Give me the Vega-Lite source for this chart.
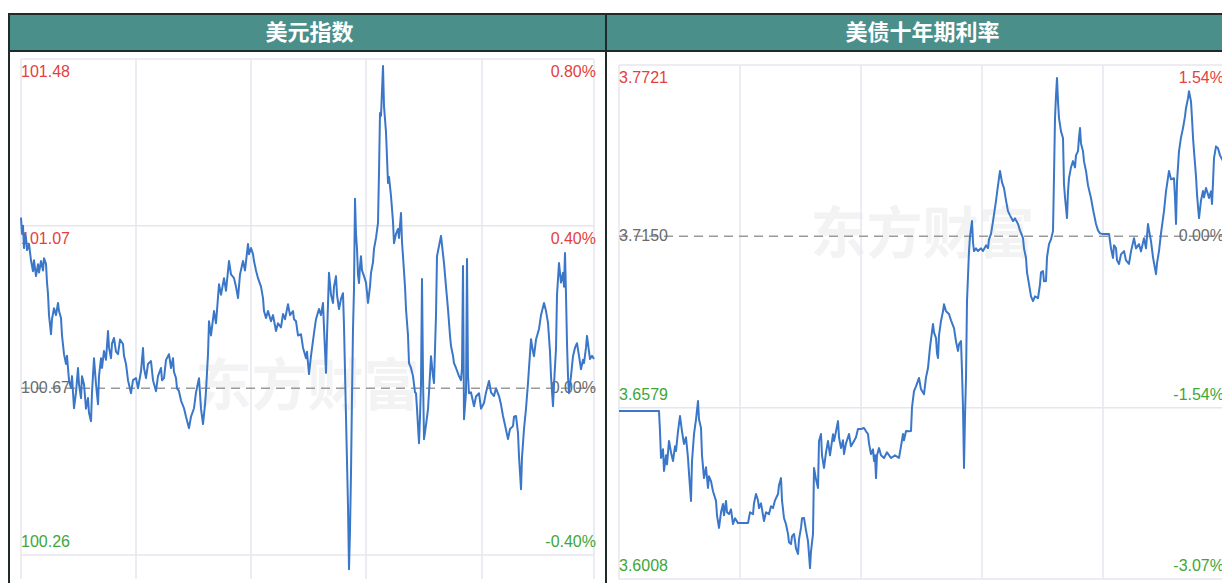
{
  "$schema": "https://vega.github.io/schema/vega-lite/v6.json",
  "padding": {"left": 8, "top": 13, "right": 0, "bottom": 0},
  "background": "white",
  "spacing": 0,
  "columns": 2,
  "bounds": "flush",
  "config": {"view": {"stroke": "#1f2a2a", "strokeWidth": 2}, "concat": {"spacing": 0}},
  "datasets": {
    "usd": [
      {"i":0,"v":101.09},{"i":1,"v":101.05},{"i":2,"v":101.07},{"i":3,"v":101.015},{"i":4,"v":101.05},{"i":5,"v":101.04},{"i":6,"v":101.01},{"i":8,"v":101.025},{"i":10,"v":100.985},{"i":12,"v":100.958},{"i":13,"v":100.985},{"i":15,"v":100.946},{"i":17,"v":100.975},{"i":18,"v":100.955},{"i":20,"v":100.983},{"i":22,"v":100.96},{"i":23,"v":100.99},{"i":25,"v":100.976},{"i":26,"v":100.93},{"i":27,"v":100.902},{"i":28,"v":100.85},{"i":30,"v":100.803},{"i":31,"v":100.84},{"i":33,"v":100.867},{"i":35,"v":100.85},{"i":37,"v":100.88},{"i":38,"v":100.86},{"i":40,"v":100.843},{"i":41,"v":100.8},{"i":43,"v":100.754},{"i":45,"v":100.73},{"i":46,"v":100.75},{"i":47,"v":100.72},{"i":48,"v":100.69},{"i":50,"v":100.671},{"i":51,"v":100.7},{"i":53,"v":100.621},{"i":55,"v":100.66},{"i":57,"v":100.72},{"i":58,"v":100.68},{"i":60,"v":100.646},{"i":61,"v":100.7},{"i":63,"v":100.68},{"i":65,"v":100.62},{"i":67,"v":100.646},{"i":68,"v":100.61},{"i":70,"v":100.589},{"i":71,"v":100.66},{"i":73,"v":100.744},{"i":75,"v":100.68},{"i":77,"v":100.631},{"i":78,"v":100.7},{"i":80,"v":100.744},{"i":81,"v":100.72},{"i":83,"v":100.762},{"i":85,"v":100.74},{"i":87,"v":100.811},{"i":88,"v":100.77},{"i":90,"v":100.744},{"i":91,"v":100.78},{"i":93,"v":100.794},{"i":95,"v":100.76},{"i":97,"v":100.754},{"i":99,"v":100.79},{"i":102,"v":100.779},{"i":103,"v":100.75},{"i":105,"v":100.73},{"i":107,"v":100.69},{"i":110,"v":100.658},{"i":112,"v":100.69},{"i":115,"v":100.695},{"i":117,"v":100.67},{"i":120,"v":100.712},{"i":121,"v":100.74},{"i":122,"v":100.769},{"i":123,"v":100.72},{"i":125,"v":100.695},{"i":127,"v":100.73},{"i":130,"v":100.737},{"i":132,"v":100.69},{"i":135,"v":100.663},{"i":137,"v":100.7},{"i":140,"v":100.72},{"i":141,"v":100.69},{"i":143,"v":100.695},{"i":145,"v":100.74},{"i":148,"v":100.754},{"i":150,"v":100.72},{"i":152,"v":100.744},{"i":153,"v":100.71},{"i":155,"v":100.695},{"i":156,"v":100.67},{"i":158,"v":100.663},{"i":160,"v":100.64},{"i":163,"v":100.621},{"i":165,"v":100.6},{"i":168,"v":100.572},{"i":170,"v":100.6},{"i":173,"v":100.621},{"i":175,"v":100.66},{"i":178,"v":100.695},{"i":180,"v":100.62},{"i":182,"v":100.582},{"i":184,"v":100.63},{"i":185,"v":100.663},{"i":187,"v":100.754},{"i":188,"v":100.835},{"i":190,"v":100.8},{"i":193,"v":100.86},{"i":195,"v":100.83},{"i":198,"v":100.926},{"i":200,"v":100.9},{"i":203,"v":100.941},{"i":205,"v":100.91},{"i":208,"v":100.983},{"i":210,"v":100.95},{"i":213,"v":100.941},{"i":215,"v":100.92},{"i":217,"v":100.892},{"i":219,"v":100.95},{"i":222,"v":100.983},{"i":224,"v":100.96},{"i":227,"v":101.025},{"i":228,"v":101.0},{"i":230,"v":101.015},{"i":232,"v":101.0},{"i":233,"v":100.983},{"i":235,"v":100.96},{"i":237,"v":100.941},{"i":240,"v":100.92},{"i":242,"v":100.892},{"i":243,"v":100.86},{"i":245,"v":100.843},{"i":247,"v":100.86},{"i":250,"v":100.835},{"i":252,"v":100.85},{"i":255,"v":100.811},{"i":257,"v":100.83},{"i":260,"v":100.82},{"i":262,"v":100.853},{"i":264,"v":100.84},{"i":267,"v":100.877},{"i":269,"v":100.85},{"i":272,"v":100.86},{"i":273,"v":100.84},{"i":275,"v":100.835},{"i":277,"v":100.8},{"i":280,"v":100.803},{"i":282,"v":100.77},{"i":285,"v":100.744},{"i":286,"v":100.76},{"i":288,"v":100.705},{"i":290,"v":100.75},{"i":293,"v":100.806},{"i":295,"v":100.84},{"i":298,"v":100.865},{"i":300,"v":100.85},{"i":302,"v":100.88},{"i":303,"v":100.82},{"i":305,"v":100.708},{"i":306,"v":100.8},{"i":308,"v":100.954},{"i":310,"v":100.9},{"i":312,"v":100.88},{"i":313,"v":100.92},{"i":315,"v":100.946},{"i":316,"v":100.9},{"i":318,"v":100.865},{"i":320,"v":100.89},{"i":322,"v":100.904},{"i":323,"v":100.823},{"i":325,"v":100.6},{"i":327,"v":100.38},{"i":328,"v":100.225},{"i":329,"v":100.32},{"i":330,"v":100.462},{"i":331,"v":100.65},{"i":332,"v":100.816},{"i":333,"v":100.914},{"i":334,"v":101.136},{"i":335,"v":101.05},{"i":336,"v":101.013},{"i":337,"v":100.95},{"i":338,"v":100.929},{"i":339,"v":100.97},{"i":340,"v":100.995},{"i":341,"v":100.96},{"i":343,"v":100.946},{"i":345,"v":100.93},{"i":347,"v":100.88},{"i":349,"v":100.92},{"i":350,"v":100.954},{"i":352,"v":100.98},{"i":353,"v":101.013},{"i":355,"v":101.04},{"i":357,"v":101.077},{"i":358,"v":101.2},{"i":359,"v":101.347},{"i":360,"v":101.34},{"i":362,"v":101.463},{"i":363,"v":101.364},{"i":365,"v":101.3},{"i":367,"v":101.175},{"i":368,"v":101.19},{"i":370,"v":101.143},{"i":372,"v":101.08},{"i":373,"v":101.027},{"i":375,"v":101.05},{"i":377,"v":101.062},{"i":378,"v":101.04},{"i":380,"v":101.101},{"i":381,"v":101.03},{"i":382,"v":100.995},{"i":384,"v":100.92},{"i":385,"v":100.865},{"i":387,"v":100.8},{"i":388,"v":100.732},{"i":390,"v":100.72},{"i":392,"v":100.7},{"i":394,"v":100.66},{"i":395,"v":100.658},{"i":396,"v":100.62},{"i":398,"v":100.535},{"i":399,"v":100.6},{"i":400,"v":100.68},{"i":401,"v":100.939},{"i":402,"v":100.7},{"i":403,"v":100.545},{"i":405,"v":100.58},{"i":407,"v":100.619},{"i":408,"v":100.66},{"i":410,"v":100.749},{"i":412,"v":100.7},{"i":413,"v":100.683},{"i":415,"v":100.85},{"i":416,"v":100.995},{"i":418,"v":101.02},{"i":420,"v":101.045},{"i":422,"v":101.0},{"i":423,"v":100.978},{"i":425,"v":100.92},{"i":427,"v":100.865},{"i":429,"v":100.8},{"i":430,"v":100.774},{"i":432,"v":100.75},{"i":433,"v":100.732},{"i":435,"v":100.72},{"i":438,"v":100.7},{"i":440,"v":100.69},{"i":441,"v":100.72},{"i":442,"v":100.971},{"i":443,"v":100.594},{"i":445,"v":100.66},{"i":446,"v":100.988},{"i":447,"v":100.7},{"i":448,"v":100.658},{"i":450,"v":100.66},{"i":453,"v":100.626},{"i":455,"v":100.65},{"i":458,"v":100.658},{"i":460,"v":100.62},{"i":463,"v":100.634},{"i":465,"v":100.66},{"i":468,"v":100.688},{"i":470,"v":100.66},{"i":473,"v":100.651},{"i":475,"v":100.67},{"i":478,"v":100.651},{"i":480,"v":100.63},{"i":482,"v":100.602},{"i":484,"v":100.58},{"i":487,"v":100.545},{"i":489,"v":100.57},{"i":492,"v":100.577},{"i":493,"v":100.6},{"i":495,"v":100.602},{"i":497,"v":100.56},{"i":498,"v":100.503},{"i":500,"v":100.422},{"i":501,"v":100.5},{"i":503,"v":100.57},{"i":505,"v":100.62},{"i":507,"v":100.683},{"i":508,"v":100.72},{"i":510,"v":100.791},{"i":512,"v":100.76},{"i":513,"v":100.749},{"i":515,"v":100.79},{"i":518,"v":100.816},{"i":520,"v":100.85},{"i":523,"v":100.88},{"i":525,"v":100.86},{"i":527,"v":100.831},{"i":529,"v":100.76},{"i":530,"v":100.7},{"i":532,"v":100.626},{"i":533,"v":100.68},{"i":535,"v":100.767},{"i":536,"v":100.9},{"i":538,"v":100.978},{"i":540,"v":100.93},{"i":542,"v":100.954},{"i":543,"v":100.92},{"i":544,"v":101.003},{"i":545,"v":100.9},{"i":546,"v":100.781},{"i":547,"v":100.7},{"i":548,"v":100.658},{"i":550,"v":100.7},{"i":552,"v":100.749},{"i":554,"v":100.77},{"i":556,"v":100.781},{"i":558,"v":100.75},{"i":560,"v":100.717},{"i":562,"v":100.74},{"i":563,"v":100.732},{"i":565,"v":100.77},{"i":566,"v":100.799},{"i":568,"v":100.76},{"i":569,"v":100.742},{"i":571,"v":100.75},{"i":573,"v":100.742}
    ],
    "ust": [
      {"i":0,"v":3.6568},{"i":40,"v":3.6568},{"i":41,"v":3.65},{"i":42,"v":3.6411},{"i":44,"v":3.644},{"i":45,"v":3.6368},{"i":47,"v":3.642},{"i":48,"v":3.639},{"i":50,"v":3.6468},{"i":52,"v":3.643},{"i":54,"v":3.6401},{"i":56,"v":3.645},{"i":57,"v":3.6434},{"i":59,"v":3.65},{"i":61,"v":3.6551},{"i":63,"v":3.65},{"i":65,"v":3.6458},{"i":67,"v":3.648},{"i":69,"v":3.6411},{"i":70,"v":3.636},{"i":72,"v":3.6268},{"i":73,"v":3.64},{"i":75,"v":3.6491},{"i":77,"v":3.654},{"i":79,"v":3.6601},{"i":80,"v":3.654},{"i":82,"v":3.6511},{"i":83,"v":3.642},{"i":85,"v":3.6344},{"i":87,"v":3.638},{"i":89,"v":3.6311},{"i":90,"v":3.635},{"i":92,"v":3.6334},{"i":94,"v":3.63},{"i":97,"v":3.6268},{"i":98,"v":3.622},{"i":100,"v":3.6178},{"i":102,"v":3.623},{"i":104,"v":3.6258},{"i":105,"v":3.622},{"i":107,"v":3.6268},{"i":108,"v":3.623},{"i":110,"v":3.6224},{"i":112,"v":3.624},{"i":114,"v":3.6191},{"i":116,"v":3.621},{"i":119,"v":3.6194},{"i":124,"v":3.6194},{"i":129,"v":3.6194},{"i":131,"v":3.623},{"i":134,"v":3.6224},{"i":135,"v":3.626},{"i":137,"v":3.6291},{"i":139,"v":3.627},{"i":140,"v":3.6244},{"i":142,"v":3.626},{"i":145,"v":3.6201},{"i":147,"v":3.623},{"i":150,"v":3.6224},{"i":152,"v":3.625},{"i":154,"v":3.6244},{"i":156,"v":3.627},{"i":159,"v":3.6291},{"i":160,"v":3.632},{"i":162,"v":3.6344},{"i":163,"v":3.627},{"i":165,"v":3.6211},{"i":167,"v":3.619},{"i":169,"v":3.6158},{"i":170,"v":3.613},{"i":172,"v":3.6124},{"i":173,"v":3.615},{"i":175,"v":3.6158},{"i":177,"v":3.611},{"i":179,"v":3.6091},{"i":180,"v":3.614},{"i":182,"v":3.6178},{"i":183,"v":3.621},{"i":185,"v":3.6211},{"i":187,"v":3.617},{"i":189,"v":3.6134},{"i":190,"v":3.609},{"i":191,"v":3.6044},{"i":192,"v":3.61},{"i":194,"v":3.6158},{"i":195,"v":3.6378},{"i":197,"v":3.634},{"i":199,"v":3.6311},{"i":200,"v":3.6468},{"i":202,"v":3.6491},{"i":203,"v":3.642},{"i":205,"v":3.6378},{"i":207,"v":3.643},{"i":209,"v":3.6468},{"i":211,"v":3.642},{"i":212,"v":3.6444},{"i":214,"v":3.649},{"i":215,"v":3.6468},{"i":217,"v":3.65},{"i":219,"v":3.6534},{"i":220,"v":3.648},{"i":222,"v":3.6444},{"i":224,"v":3.647},{"i":225,"v":3.6424},{"i":227,"v":3.646},{"i":230,"v":3.6491},{"i":232,"v":3.645},{"i":235,"v":3.6468},{"i":237,"v":3.648},{"i":239,"v":3.6508},{"i":242,"v":3.6508},{"i":245,"v":3.6511},{"i":247,"v":3.65},{"i":249,"v":3.6491},{"i":250,"v":3.646},{"i":252,"v":3.6424},{"i":254,"v":3.644},{"i":255,"v":3.6401},{"i":256,"v":3.642},{"i":257,"v":3.6344},{"i":258,"v":3.642},{"i":260,"v":3.6444},{"i":262,"v":3.642},{"i":265,"v":3.6411},{"i":268,"v":3.643},{"i":272,"v":3.6411},{"i":276,"v":3.642},{"i":280,"v":3.6411},{"i":282,"v":3.645},{"i":284,"v":3.6491},{"i":285,"v":3.647},{"i":287,"v":3.6501},{"i":290,"v":3.65},{"i":292,"v":3.6501},{"i":293,"v":3.658},{"i":295,"v":3.6634},{"i":297,"v":3.665},{"i":300,"v":3.6678},{"i":302,"v":3.664},{"i":305,"v":3.6624},{"i":307,"v":3.668},{"i":309,"v":3.6711},{"i":311,"v":3.678},{"i":314,"v":3.6858},{"i":315,"v":3.683},{"i":317,"v":3.6811},{"i":318,"v":3.676},{"i":319,"v":3.6744},{"i":320,"v":3.682},{"i":322,"v":3.6868},{"i":324,"v":3.69},{"i":325,"v":3.6924},{"i":327,"v":3.69},{"i":330,"v":3.6891},{"i":332,"v":3.687},{"i":335,"v":3.6844},{"i":337,"v":3.68},{"i":339,"v":3.6768},{"i":340,"v":3.679},{"i":342,"v":3.6801},{"i":343,"v":3.67},{"i":344,"v":3.6578},{"i":345,"v":3.6378},{"i":346,"v":3.655},{"i":347,"v":3.6678},{"i":348,"v":3.6934},{"i":350,"v":3.7101},{"i":351,"v":3.715},{"i":353,"v":3.7201},{"i":354,"v":3.713},{"i":355,"v":3.7101},{"i":357,"v":3.711},{"i":359,"v":3.7101},{"i":362,"v":3.711},{"i":364,"v":3.7101},{"i":367,"v":3.712},{"i":369,"v":3.7111},{"i":370,"v":3.714},{"i":372,"v":3.7158},{"i":374,"v":3.72},{"i":377,"v":3.7268},{"i":379,"v":3.732},{"i":381,"v":3.7368},{"i":383,"v":3.733},{"i":385,"v":3.7311},{"i":387,"v":3.727},{"i":389,"v":3.7234},{"i":391,"v":3.722},{"i":394,"v":3.7201},{"i":396,"v":3.721},{"i":399,"v":3.7191},{"i":401,"v":3.717},{"i":404,"v":3.7144},{"i":405,"v":3.711},{"i":407,"v":3.7078},{"i":408,"v":3.703},{"i":410,"v":3.6991},{"i":412,"v":3.695},{"i":414,"v":3.6934},{"i":416,"v":3.695},{"i":419,"v":3.6944},{"i":421,"v":3.699},{"i":422,"v":3.703},{"i":424,"v":3.7034},{"i":425,"v":3.7},{"i":427,"v":3.7001},{"i":428,"v":3.708},{"i":430,"v":3.7124},{"i":432,"v":3.714},{"i":434,"v":3.7168},{"i":435,"v":3.735},{"i":436,"v":3.7544},{"i":437,"v":3.762},{"i":438,"v":3.7678},{"i":439,"v":3.76},{"i":440,"v":3.7544},{"i":442,"v":3.75},{"i":444,"v":3.7478},{"i":445,"v":3.7324},{"i":446,"v":3.728},{"i":448,"v":3.7211},{"i":449,"v":3.73},{"i":450,"v":3.7344},{"i":452,"v":3.738},{"i":454,"v":3.7401},{"i":456,"v":3.738},{"i":457,"v":3.742},{"i":459,"v":3.7434},{"i":460,"v":3.748},{"i":461,"v":3.7511},{"i":462,"v":3.746},{"i":464,"v":3.7434},{"i":465,"v":3.74},{"i":467,"v":3.7368},{"i":469,"v":3.732},{"i":472,"v":3.7278},{"i":474,"v":3.724},{"i":477,"v":3.7191},{"i":479,"v":3.717},{"i":481,"v":3.716},{"i":484,"v":3.7158},{"i":490,"v":3.7158},{"i":492,"v":3.711},{"i":494,"v":3.7078},{"i":495,"v":3.712},{"i":497,"v":3.7111},{"i":498,"v":3.707},{"i":500,"v":3.7058},{"i":502,"v":3.709},{"i":505,"v":3.7101},{"i":507,"v":3.707},{"i":510,"v":3.7058},{"i":512,"v":3.71},{"i":515,"v":3.7144},{"i":517,"v":3.711},{"i":520,"v":3.7124},{"i":522,"v":3.71},{"i":525,"v":3.7144},{"i":527,"v":3.711},{"i":529,"v":3.7191},{"i":530,"v":3.717},{"i":532,"v":3.7134},{"i":534,"v":3.708},{"i":537,"v":3.7024},{"i":538,"v":3.706},{"i":540,"v":3.7101},{"i":542,"v":3.716},{"i":545,"v":3.7234},{"i":547,"v":3.73},{"i":550,"v":3.7368},{"i":552,"v":3.734},{"i":555,"v":3.7344},{"i":556,"v":3.728},{"i":557,"v":3.7191},{"i":558,"v":3.733},{"i":560,"v":3.7434},{"i":562,"v":3.748},{"i":564,"v":3.7511},{"i":566,"v":3.755},{"i":567,"v":3.7578},{"i":569,"v":3.761},{"i":570,"v":3.7634},{"i":572,"v":3.76},{"i":573,"v":3.7544},{"i":574,"v":3.748},{"i":575,"v":3.7434},{"i":577,"v":3.735},{"i":578,"v":3.7291},{"i":579,"v":3.725},{"i":580,"v":3.7211},{"i":582,"v":3.727},{"i":584,"v":3.7301},{"i":585,"v":3.728},{"i":587,"v":3.7311},{"i":589,"v":3.729},{"i":590,"v":3.7278},{"i":592,"v":3.73},{"i":593,"v":3.7258},{"i":594,"v":3.733},{"i":595,"v":3.7411},{"i":597,"v":3.745},{"i":599,"v":3.7444},{"i":601,"v":3.742},{"i":604,"v":3.7401}
    ],
    "usdLevels": [
      {"v":101.48,"lab":"101.48","pct":"0.80%","k":"up"},
      {"v":101.07,"lab":"101.07","pct":"0.40%","k":"up"},
      {"v":100.67,"lab":"100.67","pct":"0.00%","k":"base"},
      {"v":100.26,"lab":"100.26","pct":"-0.40%","k":"down"}
    ],
    "ustLevels": [
      {"v":3.7721,"lab":"3.7721","pct":"1.54%","k":"up"},
      {"v":3.715,"lab":"3.7150","pct":"0.00%","k":"base"},
      {"v":3.6579,"lab":"3.6579","pct":"-1.54%","k":"down"},
      {"v":3.6008,"lab":"3.6008","pct":"-3.07%","k":"down"}
    ],
    "usdCols": [{"i":0},{"i":115},{"i":230},{"i":345},{"i":461},{"i":573}],
    "ustCols": [{"i":0},{"i":121},{"i":242},{"i":363},{"i":484},{"i":605}]
  },
  "concat": [
    {
      "width": 597, "height": 37,
      "data": {"values": [{"title": "美元指数"}]},
      "view": {"fill": "#4b8f8b", "stroke": "#1f2a2a", "strokeWidth": 2},
      "mark": {"type": "text", "color": "white", "font": "Noto Sans CJK SC", "fontWeight": "bold", "fontSize": 22, "baseline": "middle", "align": "center", "dx": 2},
      "encoding": {"text": {"field": "title"}}
    },
    {
      "width": 617, "height": 37,
      "data": {"values": [{"title": "美债十年期利率"}]},
      "view": {"fill": "#4b8f8b", "stroke": "#1f2a2a", "strokeWidth": 2},
      "mark": {"type": "text", "color": "white", "font": "Noto Sans CJK SC", "fontWeight": "bold", "fontSize": 22, "baseline": "middle", "align": "center", "dx": 8},
      "encoding": {"text": {"field": "title"}}
    },
    {
      "width": 597, "height": 533,
      "view": {"fill": "white", "stroke": "#1f2a2a", "strokeWidth": 2},
      "layer": [
        {
          "data": {"values": [{"wm": "东方财富"}]},
          "mark": {"type": "text", "color": "#f3f3f3", "font": "Noto Sans CJK SC", "fontWeight": "bold", "fontSize": 56, "baseline": "middle", "align": "center"},
          "encoding": {
            "text": {"field": "wm"},
            "y": {"datum": 100.67, "scale": {"domain": [100.1887, 101.4997], "nice": false, "zero": false}, "axis": null}
          }
        },
        {
          "data": {"name": "usdCols"},
          "mark": {"type": "rule", "color": "#e6e6ee", "strokeWidth": 1.5},
          "encoding": {
            "x": {"field": "i", "type": "quantitative", "scale": {"domain": [-12, 585], "nice": false, "zero": false}, "axis": null},
            "y": {"datum": 101.48, "scale": {"domain": [100.1887, 101.4997], "nice": false, "zero": false}, "axis": null},
            "y2": {"datum": 100.201}
          }
        },
        {
          "data": {"name": "usdLevels"},
          "transform": [{"filter": "datum.k != 'base'"}],
          "mark": {"type": "rule", "color": "#e6e6ee", "strokeWidth": 1.5},
          "encoding": {
            "y": {"field": "v", "type": "quantitative", "scale": {"domain": [100.1887, 101.4997], "nice": false, "zero": false}, "axis": null},
            "x": {"datum": 0, "scale": {"domain": [-12, 585], "nice": false, "zero": false}, "axis": null},
            "x2": {"datum": 573}
          }
        },
        {
          "data": {"name": "usdLevels"},
          "transform": [{"filter": "datum.k == 'base'"}],
          "mark": {"type": "rule", "color": "#9a9a9a", "strokeWidth": 1.5, "strokeDash": [9, 6]},
          "encoding": {
            "y": {"field": "v", "type": "quantitative", "scale": {"domain": [100.1887, 101.4997], "nice": false, "zero": false}, "axis": null},
            "x": {"datum": 0, "scale": {"domain": [-12, 585], "nice": false, "zero": false}, "axis": null},
            "x2": {"datum": 573}
          }
        },
        {"data": {"name": "usdLevels"}, "transform": [{"filter": "datum.k == 'up'"}], "mark": {"type": "text", "font": "Liberation Sans", "fontSize": 16, "align": "left", "baseline": "top", "dy": 5, "dx": 0, "color": "#e5403c"}, "encoding": {"text": {"field": "lab"}, "x": {"datum": 0, "scale": {"domain": [-12, 585], "nice": false, "zero": false}, "axis": null}, "y": {"field": "v", "type": "quantitative", "scale": {"domain": [100.1887, 101.4997], "nice": false, "zero": false}, "axis": null}}},
        {"data": {"name": "usdLevels"}, "transform": [{"filter": "datum.k == 'up'"}], "mark": {"type": "text", "font": "Liberation Sans", "fontSize": 16, "align": "right", "baseline": "top", "dy": 5, "dx": 2, "color": "#e5403c"}, "encoding": {"text": {"field": "pct"}, "x": {"datum": 573, "scale": {"domain": [-12, 585], "nice": false, "zero": false}, "axis": null}, "y": {"field": "v", "type": "quantitative", "scale": {"domain": [100.1887, 101.4997], "nice": false, "zero": false}, "axis": null}}},
        {"data": {"name": "usdLevels"}, "transform": [{"filter": "datum.k == 'base'"}], "mark": {"type": "text", "font": "Liberation Sans", "fontSize": 16, "align": "left", "baseline": "middle", "dx": 0, "color": "#6a6a6a"}, "encoding": {"text": {"field": "lab"}, "x": {"datum": 0, "scale": {"domain": [-12, 585], "nice": false, "zero": false}, "axis": null}, "y": {"field": "v", "type": "quantitative", "scale": {"domain": [100.1887, 101.4997], "nice": false, "zero": false}, "axis": null}}},
        {"data": {"name": "usdLevels"}, "transform": [{"filter": "datum.k == 'base'"}], "mark": {"type": "text", "font": "Liberation Sans", "fontSize": 16, "align": "right", "baseline": "middle", "dx": 2, "color": "#6a6a6a"}, "encoding": {"text": {"field": "pct"}, "x": {"datum": 573, "scale": {"domain": [-12, 585], "nice": false, "zero": false}, "axis": null}, "y": {"field": "v", "type": "quantitative", "scale": {"domain": [100.1887, 101.4997], "nice": false, "zero": false}, "axis": null}}},
        {"data": {"name": "usdLevels"}, "transform": [{"filter": "datum.k == 'down'"}], "mark": {"type": "text", "font": "Liberation Sans", "fontSize": 16, "align": "left", "baseline": "bottom", "dy": -5, "dx": 0, "color": "#3ea63a"}, "encoding": {"text": {"field": "lab"}, "x": {"datum": 0, "scale": {"domain": [-12, 585], "nice": false, "zero": false}, "axis": null}, "y": {"field": "v", "type": "quantitative", "scale": {"domain": [100.1887, 101.4997], "nice": false, "zero": false}, "axis": null}}},
        {"data": {"name": "usdLevels"}, "transform": [{"filter": "datum.k == 'down'"}], "mark": {"type": "text", "font": "Liberation Sans", "fontSize": 16, "align": "right", "baseline": "bottom", "dy": -5, "dx": 2, "color": "#3ea63a"}, "encoding": {"text": {"field": "pct"}, "x": {"datum": 573, "scale": {"domain": [-12, 585], "nice": false, "zero": false}, "axis": null}, "y": {"field": "v", "type": "quantitative", "scale": {"domain": [100.1887, 101.4997], "nice": false, "zero": false}, "axis": null}}},
        {
          "data": {"name": "usd"},
          "mark": {"type": "line", "color": "#3a77c8", "strokeWidth": 2, "strokeJoin": "round"},
          "encoding": {
            "x": {"field": "i", "type": "quantitative", "scale": {"domain": [-12, 585], "nice": false, "zero": false}, "axis": null},
            "y": {"field": "v", "type": "quantitative", "scale": {"domain": [100.1887, 101.4997], "nice": false, "zero": false}, "axis": null}
          }
        }
      ]
    },
    {
      "width": 617, "height": 533,
      "view": {"fill": "white", "stroke": "#1f2a2a", "strokeWidth": 2},
      "layer": [
        {
          "data": {"values": [{"wm": "东方财富"}]},
          "mark": {"type": "text", "color": "#f3f3f3", "font": "Noto Sans CJK SC", "fontWeight": "bold", "fontSize": 56, "baseline": "middle", "align": "center", "dx": 8},
          "encoding": {
            "text": {"field": "wm"},
            "y": {"datum": 3.715, "scale": {"domain": [3.5991, 3.7768], "nice": false, "zero": false}, "axis": null}
          }
        },
        {
          "data": {"name": "ustCols"},
          "mark": {"type": "rule", "color": "#e6e6ee", "strokeWidth": 1.5, "clip": true},
          "encoding": {
            "x": {"field": "i", "type": "quantitative", "scale": {"domain": [-13, 604], "nice": false, "zero": false}, "axis": null},
            "y": {"datum": 3.7721, "scale": {"domain": [3.5991, 3.7768], "nice": false, "zero": false}, "axis": null},
            "y2": {"datum": 3.6008}
          }
        },
        {
          "data": {"name": "ustLevels"},
          "transform": [{"filter": "datum.k != 'base'"}],
          "mark": {"type": "rule", "color": "#e6e6ee", "strokeWidth": 1.5, "clip": true},
          "encoding": {
            "y": {"field": "v", "type": "quantitative", "scale": {"domain": [3.5991, 3.7768], "nice": false, "zero": false}, "axis": null},
            "x": {"datum": 0, "scale": {"domain": [-13, 604], "nice": false, "zero": false}, "axis": null},
            "x2": {"datum": 605}
          }
        },
        {
          "data": {"name": "ustLevels"},
          "transform": [{"filter": "datum.k == 'base'"}],
          "mark": {"type": "rule", "color": "#9a9a9a", "strokeWidth": 1.5, "strokeDash": [9, 6], "clip": true},
          "encoding": {
            "y": {"field": "v", "type": "quantitative", "scale": {"domain": [3.5991, 3.7768], "nice": false, "zero": false}, "axis": null},
            "x": {"datum": 0, "scale": {"domain": [-13, 604], "nice": false, "zero": false}, "axis": null},
            "x2": {"datum": 605}
          }
        },
        {"data": {"name": "ustLevels"}, "transform": [{"filter": "datum.k == 'up'"}], "mark": {"type": "text", "font": "Liberation Sans", "fontSize": 16, "align": "left", "baseline": "top", "dy": 5, "dx": 0, "color": "#e5403c", "clip": true}, "encoding": {"text": {"field": "lab"}, "x": {"datum": 0, "scale": {"domain": [-13, 604], "nice": false, "zero": false}, "axis": null}, "y": {"field": "v", "type": "quantitative", "scale": {"domain": [3.5991, 3.7768], "nice": false, "zero": false}, "axis": null}}},
        {"data": {"name": "ustLevels"}, "transform": [{"filter": "datum.k == 'up'"}], "mark": {"type": "text", "font": "Liberation Sans", "fontSize": 16, "align": "right", "baseline": "top", "dy": 5, "dx": 0, "color": "#e5403c", "clip": true}, "encoding": {"text": {"field": "pct"}, "x": {"datum": 605, "scale": {"domain": [-13, 604], "nice": false, "zero": false}, "axis": null}, "y": {"field": "v", "type": "quantitative", "scale": {"domain": [3.5991, 3.7768], "nice": false, "zero": false}, "axis": null}}},
        {"data": {"name": "ustLevels"}, "transform": [{"filter": "datum.k == 'base'"}], "mark": {"type": "text", "font": "Liberation Sans", "fontSize": 16, "align": "left", "baseline": "middle", "dx": 0, "color": "#6a6a6a", "clip": true}, "encoding": {"text": {"field": "lab"}, "x": {"datum": 0, "scale": {"domain": [-13, 604], "nice": false, "zero": false}, "axis": null}, "y": {"field": "v", "type": "quantitative", "scale": {"domain": [3.5991, 3.7768], "nice": false, "zero": false}, "axis": null}}},
        {"data": {"name": "ustLevels"}, "transform": [{"filter": "datum.k == 'base'"}], "mark": {"type": "text", "font": "Liberation Sans", "fontSize": 16, "align": "right", "baseline": "middle", "dx": 0, "color": "#6a6a6a", "clip": true}, "encoding": {"text": {"field": "pct"}, "x": {"datum": 605, "scale": {"domain": [-13, 604], "nice": false, "zero": false}, "axis": null}, "y": {"field": "v", "type": "quantitative", "scale": {"domain": [3.5991, 3.7768], "nice": false, "zero": false}, "axis": null}}},
        {"data": {"name": "ustLevels"}, "transform": [{"filter": "datum.k == 'down'"}], "mark": {"type": "text", "font": "Liberation Sans", "fontSize": 16, "align": "left", "baseline": "bottom", "dy": -5, "dx": 0, "color": "#3ea63a", "clip": true}, "encoding": {"text": {"field": "lab"}, "x": {"datum": 0, "scale": {"domain": [-13, 604], "nice": false, "zero": false}, "axis": null}, "y": {"field": "v", "type": "quantitative", "scale": {"domain": [3.5991, 3.7768], "nice": false, "zero": false}, "axis": null}}},
        {"data": {"name": "ustLevels"}, "transform": [{"filter": "datum.k == 'down'"}], "mark": {"type": "text", "font": "Liberation Sans", "fontSize": 16, "align": "right", "baseline": "bottom", "dy": -5, "dx": 0, "color": "#3ea63a", "clip": true}, "encoding": {"text": {"field": "pct"}, "x": {"datum": 605, "scale": {"domain": [-13, 604], "nice": false, "zero": false}, "axis": null}, "y": {"field": "v", "type": "quantitative", "scale": {"domain": [3.5991, 3.7768], "nice": false, "zero": false}, "axis": null}}},
        {
          "data": {"name": "ust"},
          "mark": {"type": "line", "color": "#3a77c8", "strokeWidth": 2, "strokeJoin": "round", "clip": true},
          "encoding": {
            "x": {"field": "i", "type": "quantitative", "scale": {"domain": [-13, 604], "nice": false, "zero": false}, "axis": null},
            "y": {"field": "v", "type": "quantitative", "scale": {"domain": [3.5991, 3.7768], "nice": false, "zero": false}, "axis": null}
          }
        }
      ]
    }
  ]
}
